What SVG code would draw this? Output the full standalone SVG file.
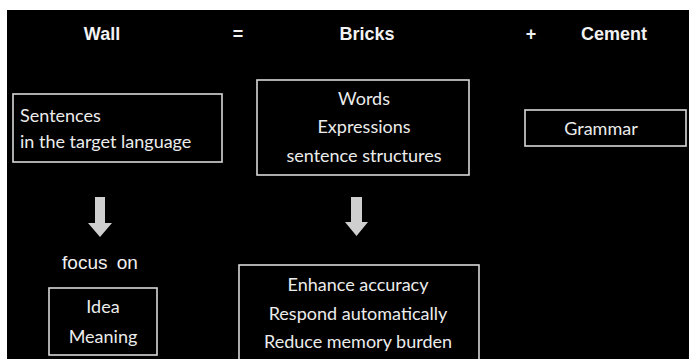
<svg xmlns="http://www.w3.org/2000/svg" width="689" height="359" viewBox="0 0 689 359">
<style>
.hdr{font-family:"Liberation Sans",Arial,sans-serif;font-weight:bold;font-size:18px;fill:#f2f2f2;text-anchor:middle}
.box{fill:none;stroke:#d8d8d8;stroke-width:1.6}
.t{font-family:Lato,"Liberation Sans",sans-serif;font-size:18px;fill:#ececec}
.c{text-anchor:middle}
.arrow{fill:#cfcfcf}
.focus{font-family:"Liberation Sans",Arial,sans-serif;font-size:19px;fill:#f0f0f0;text-anchor:middle;word-spacing:4px}
</style>
<rect x="0" y="0" width="689" height="359" fill="#ffffff"/>
<rect x="7" y="10" width="682" height="349" fill="#000000"/>
<g id="header">
<text class="hdr" x="102" y="40">Wall</text>
<text class="hdr" x="238" y="40">=</text>
<text class="hdr" x="367" y="40">Bricks</text>
<text class="hdr" x="531" y="40">+</text>
<text class="hdr" x="614" y="40">Cement</text>
</g>
<g id="sentences">
<rect class="box" x="13" y="94" width="209" height="68"/>
<text class="t" x="20" y="122">Sentences</text>
<text class="t" x="20" y="148">in the target language</text>
</g>
<g id="bricks">
<rect class="box" x="257" y="80" width="212" height="95"/>
<text class="t c" x="364" y="105">Words</text>
<text class="t c" x="364" y="133">Expressions</text>
<text class="t c" x="364" y="162">sentence structures</text>
</g>
<g id="grammar">
<rect class="box" x="525" y="110" width="161" height="36"/>
<text class="t c" x="601" y="135">Grammar</text>
</g>
<g id="focus">
<text class="focus" x="100" y="269">focus on</text>
</g>
<g id="idea">
<rect class="box" x="49" y="288" width="108" height="67"/>
<text class="t c" x="103" y="313">Idea</text>
<text class="t c" x="103" y="343">Meaning</text>
</g>
<g id="effects">
<rect class="box" x="239" y="265" width="240" height="100"/>
<text class="t c" x="358" y="291">Enhance accuracy</text>
<text class="t c" x="358" y="320">Respond automatically</text>
<text class="t c" x="358" y="348">Reduce memory burden</text>
</g>
<g id="connectors">
<polygon class="arrow" points="95,197 105,197 105,223 112,223 100,237 88,223 95,223"/>
<polygon class="arrow" points="351,197 362,197 362,222 368,222 356.5,236 345,222 351,222"/>
</g>
</svg>
